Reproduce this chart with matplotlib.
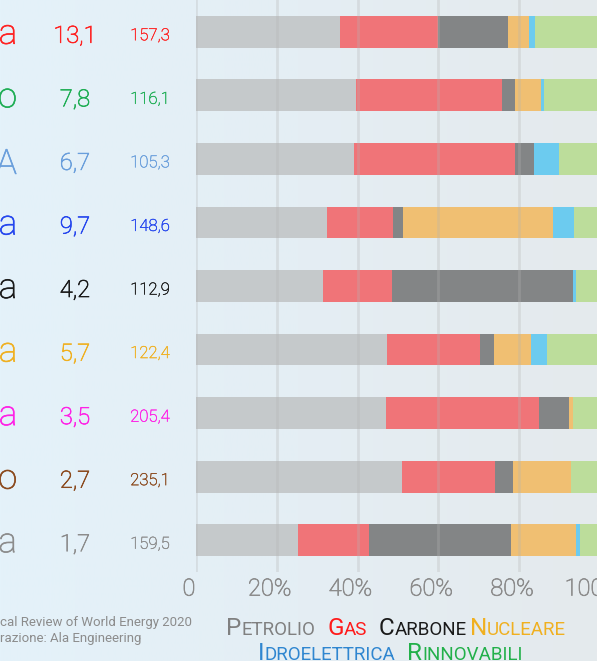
import numpy as np
import matplotlib.pyplot as plt
import matplotlib.patheffects as pe
from matplotlib.colors import LinearSegmentedColormap
from matplotlib.transforms import ScaledTranslation, blended_transform_factory

plt.rcParams['font.family'] = ['Roboto', 'DejaVu Sans']

# Paesi, consumo totale (EJ) e consumo pro capite (GJ)
paesi = ["Germania", "Regno Unito", "ITALIA", "Francia", "Polonia",
         "Spagna", "Olanda", "Belgio", "Rep. Ceca"]
consumo = ["13,1", "7,8", "6,7", "9,7", "4,2", "5,7", "3,5", "2,7", "1,7"]
pro_capite = ["157,3", "116,1", "105,3", "148,6", "112,9",
              "122,4", "205,4", "235,1", "159,5"]
colori_paesi = ["#ff2222", "#1fae55", "#6a9fdc", "#2546ee", "#1a1a1a",
                "#f0b020", "#ff22e6", "#8b4a1e", "#8c8c8c"]

# Quote delle fonti, %
petrolio    = [35.6, 39.5, 39.0, 32.5, 31.4, 47.4, 47.0, 50.9, 25.2]
gas         = [24.3, 36.3, 40.0, 16.2, 17.0, 22.8, 37.8, 23.1, 17.5]
carbone     = [17.4,  3.2,  4.6,  2.6, 44.8,  3.6,  7.6,  4.5, 35.3]
nucleare    = [ 5.1,  6.5,  0.0, 37.0,  0.0,  9.1,  0.9, 14.4, 16.0]
idro        = [ 1.5,  0.6,  6.3,  5.3,  0.9,  4.0,  0.1,  0.0,  1.0]
rinnovabili = [16.1, 13.9, 10.1,  6.4,  5.9, 13.1,  6.6,  7.1,  4.9]

fonti = ["Petrolio", "Gas", "Carbone", "Nucleare", "Idroelettrica", "Rinnovabili"]
colori_barre = ["#c5c9cb", "#f07478", "#838586", "#f0bf72", "#6ccbef", "#bcdd9b"]
colori_legenda = ["#808080", "#ff1a1a", "#1a1a1a", "#f0b020", "#2f86d0", "#22b04a"]

valori = [petrolio, gas, carbone, nucleare, idro, rinnovabili]

fig = plt.figure(figsize=(5.97, 6.61), dpi=100)

# sfondo sfumato
bg = fig.add_axes([0, 0, 1, 1], zorder=-10)
cmap = LinearSegmentedColormap.from_list("bg", ["#e4f2fa", "#e4eef4", "#e5eaed"])
bg.imshow(np.linspace(0, 1, 256)[None, :], cmap=cmap, aspect="auto")
bg.axis("off")

ax = fig.add_axes([196/597, 89/661, 404/597, 572/661])
ax.patch.set_alpha(0)

y = np.arange(len(paesi))
sinistra = np.zeros(len(paesi))
for serie, col in zip(valori, colori_barre):
    ax.barh(y, serie, left=sinistra, height=0.5, color=col, zorder=2)
    sinistra += np.array(serie)

ax.set_xlim(0, 100)
ax.set_ylim(8.5, -0.5)
for v in range(0, 101, 20):
    ax.axvline(v, color="#b4b4b4", alpha=0.3, lw=2, zorder=3)
for s in ax.spines.values():
    s.set_visible(False)
ax.set_yticks([])
ax.set_xticks(range(0, 101, 20), ["0", "20%", "40%", "60%", "80%", "100%"])
ax.tick_params(axis="x", length=0, pad=4, labelsize=17, labelcolor="#8c8c8c")
for lab in ax.get_xticklabels():
    lab.set_fontweight("light")
    lab.set_path_effects([pe.withStroke(linewidth=0.5, foreground="#8c8c8c")])
    lab.set_transform(lab.get_transform() + ScaledTranslation(-0.07, 0, fig.dpi_scale_trans))

# etichette a sinistra: nome, consumo, pro capite
tr = blended_transform_factory(fig.dpi_scale_trans, ax.transData)
def giu(px):
    return tr + ScaledTranslation(0, -px/100, fig.dpi_scale_trans)

for i, nome in enumerate(paesi):
    c = colori_paesi[i]
    bordo = [pe.withStroke(linewidth=0.5, foreground=c)]
    off = 15 if nome.isupper() else 12
    ax.text(0.17, i, nome, transform=giu(off), ha="right", va="baseline",
            fontsize=25, color=c, fontweight="light", clip_on=False, path_effects=bordo)
    ax.text(0.75, i, consumo[i], transform=giu(11), ha="center", va="baseline",
            fontsize=17, color=c, fontweight="light", clip_on=False, path_effects=bordo)
    ax.text(1.50, i, pro_capite[i], transform=giu(8.5), ha="center", va="baseline",
            fontsize=12, color=c, fontweight="light", clip_on=False,
            path_effects=[pe.withStroke(linewidth=0.3, foreground=c)])

# fonte
fig.text(0.5/597, 1 - 626/661, "cal Review of World Energy 2020", fontsize=9.5,
         color="#8c8c8c", va="baseline")
fig.text(0.5/597, 1 - 642/661, "razione: Ala Engineering", fontsize=9.5,
         color="#8c8c8c", va="baseline")

# legenda in maiuscoletto
r = fig.canvas.get_renderer()
def riga(indici, y_px, centro_px):
    testi = []
    for k, j in enumerate(indici):
        parola = fonti[j].upper()
        testi.append(fig.text(0, 1 - y_px/661, parola[0], fontsize=17.5,
                              color=colori_legenda[j], va="baseline"))
        testi.append(fig.text(0, 1 - y_px/661, parola[1:], fontsize=13.5,
                              color=colori_legenda[j], va="baseline"))
        if k < len(indici) - 1:
            testi.append(3 if fonti[j] == "Carbone" else 12)
    larg = sum(t if isinstance(t, int) else t.get_window_extent(r).width for t in testi)
    x = centro_px - larg/2
    for t in testi:
        if isinstance(t, int):
            x += t
        else:
            t.set_x(x/597)
            x += t.get_window_extent(r).width

riga([0, 1, 2, 3], 635, 396)
riga([4, 5], 660, 390)

fig.savefig("out.png", dpi=100)
